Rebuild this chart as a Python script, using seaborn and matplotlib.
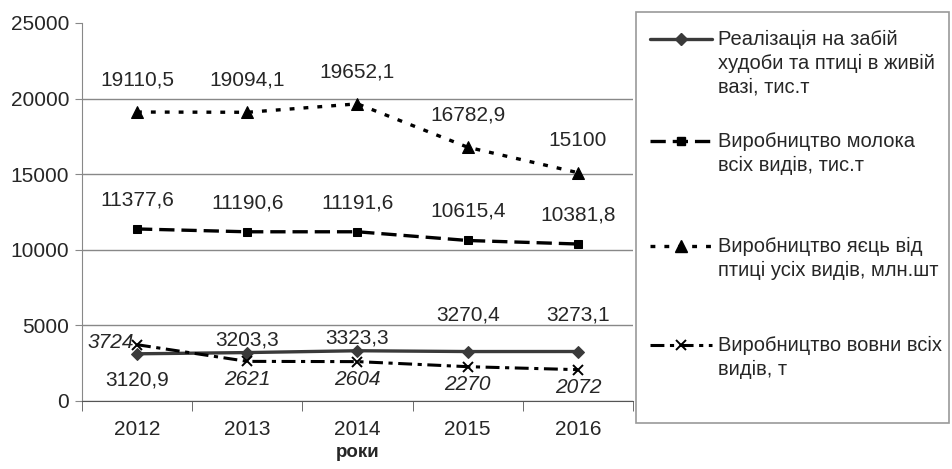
import numpy as np
import pandas as pd
import matplotlib
matplotlib.use('Agg')
import matplotlib.pyplot as plt
from matplotlib.lines import Line2D
from matplotlib.patches import Rectangle
import seaborn as sns

years = [2012, 2013, 2014, 2015, 2016]
meat = [3120.9, 3203.3, 3323.3, 3270.4, 3273.1]
milk = [11377.6, 11190.6, 11191.6, 10615.4, 10381.8]
eggs = [19110.5, 19094.1, 19652.1, 16782.9, 15100]
wool = [3724, 2621, 2604, 2270, 2072]

names = ['Реалізація на забій\nхудоби та птиці в живій\nвазі, тис.т',
         'Виробництво молока\nвсіх видів, тис.т',
         'Виробництво яєць від\nптиці усіх видів, млн.шт',
         'Виробництво вовни всіх\nвидів, т']

sns.set_style('white')
plt.rcParams['font.family'] = ['Liberation Sans', 'DejaVu Sans']
plt.rcParams['lines.scale_dashes'] = False
FS = 15

fig = plt.figure(figsize=(9.52, 4.69), dpi=100)
ax = fig.add_axes([0.086, 0.145, 0.579, 0.806])

x = np.arange(len(years))
df = pd.DataFrame({'x': x, 'meat': meat, 'milk': milk, 'eggs': eggs, 'wool': wool})

styles = [
    dict(color='#3a3a3a', lw=2.4, marker='D', ms=6, mec='#3a3a3a', mfc='#3a3a3a', ls='-'),
    dict(color='black', lw=2.4, marker='s', ms=6, mec='black', mfc='black', dashes=(11, 5)),
    dict(color='black', lw=2.4, marker='^', ms=8, mec='black', mfc='black', dashes=(3.5, 6.5)),
    dict(color='black', lw=2.2, marker='x', ms=7, mec='black', mew=1.4, dashes=(10, 4, 3, 4)),
]
for col, st in zip(['meat', 'milk', 'eggs', 'wool'], styles):
    sns.lineplot(data=df, x='x', y=col, ax=ax, legend=False, **st)

ax.set_xlim(-0.5, 4.5)
ax.set_ylim(0, 25000)
ax.set_yticks(range(0, 25001, 5000))
ax.set_xticks(x)
ax.set_xticklabels([str(y) for y in years])
ax.yaxis.grid(True, color='#888888', lw=1)
ax.get_ygridlines()[-1].set_visible(False)
ax.set_axisbelow(True)
for s in ['top', 'right']:
    ax.spines[s].set_visible(False)
ax.spines['left'].set_color('#888888')
ax.spines['bottom'].set_color('#555555')
ax.tick_params(axis='y', labelsize=FS, length=5, color='#888888', left=True, pad=4)
ax.tick_params(axis='x', which='major', labelsize=FS, length=0, pad=14)
ax.set_xticks(np.arange(-0.5, 5, 1), minor=True)
ax.tick_params(axis='x', which='minor', length=7, color='#555555', bottom=True)
ax.set_xlabel('роки', fontsize=13.5, fontweight='bold', labelpad=3)
ax.set_ylabel('')

def fmt(v):
    return f'{v:g}'.replace('.', ',')

def lab(i, v, dx, dy, ha='center', italic=False):
    ax.annotate(fmt(v), (i, v), xytext=(dx, dy), textcoords='offset pixels', ha=ha, va='center',
                fontsize=FS, style='italic' if italic else 'normal')

for i, v in enumerate(eggs):
    lab(i, v, 0, 32)
for i, v in enumerate(milk):
    lab(i, v, 0, 29)
for i, v in enumerate(meat):
    if i == 0:
        lab(i, v, 0, -26)
    elif i in (1, 2):
        lab(i, v, 0, 13)
    else:
        lab(i, v, 0, 37)
for i, v in enumerate(wool):
    if i == 0:
        lab(i, v, -3, 2, ha='right', italic=True)
    else:
        lab(i, v, 0, -18, italic=True)

# legend drawn by hand so the key sits on the first line of each label
lax = fig.add_axes([0, 0, 1, 1])
lax.set_xlim(0, 952)
lax.set_ylim(469, 0)
lax.axis('off')
lax.add_patch(Rectangle((636, 12), 313, 411, fill=False, ec='#999999', lw=1.2))
rows = [39, 141, 246, 345]
for y0, st, nm in zip(rows, styles, names):
    lax.add_line(Line2D([650, 681, 712], [y0, y0, y0], markevery=[1], **st))
    lax.text(718, y0 - 9, nm, fontsize=14.5, va='top', ha='left', linespacing=1.3)

fig.savefig('out.png', dpi=100)
